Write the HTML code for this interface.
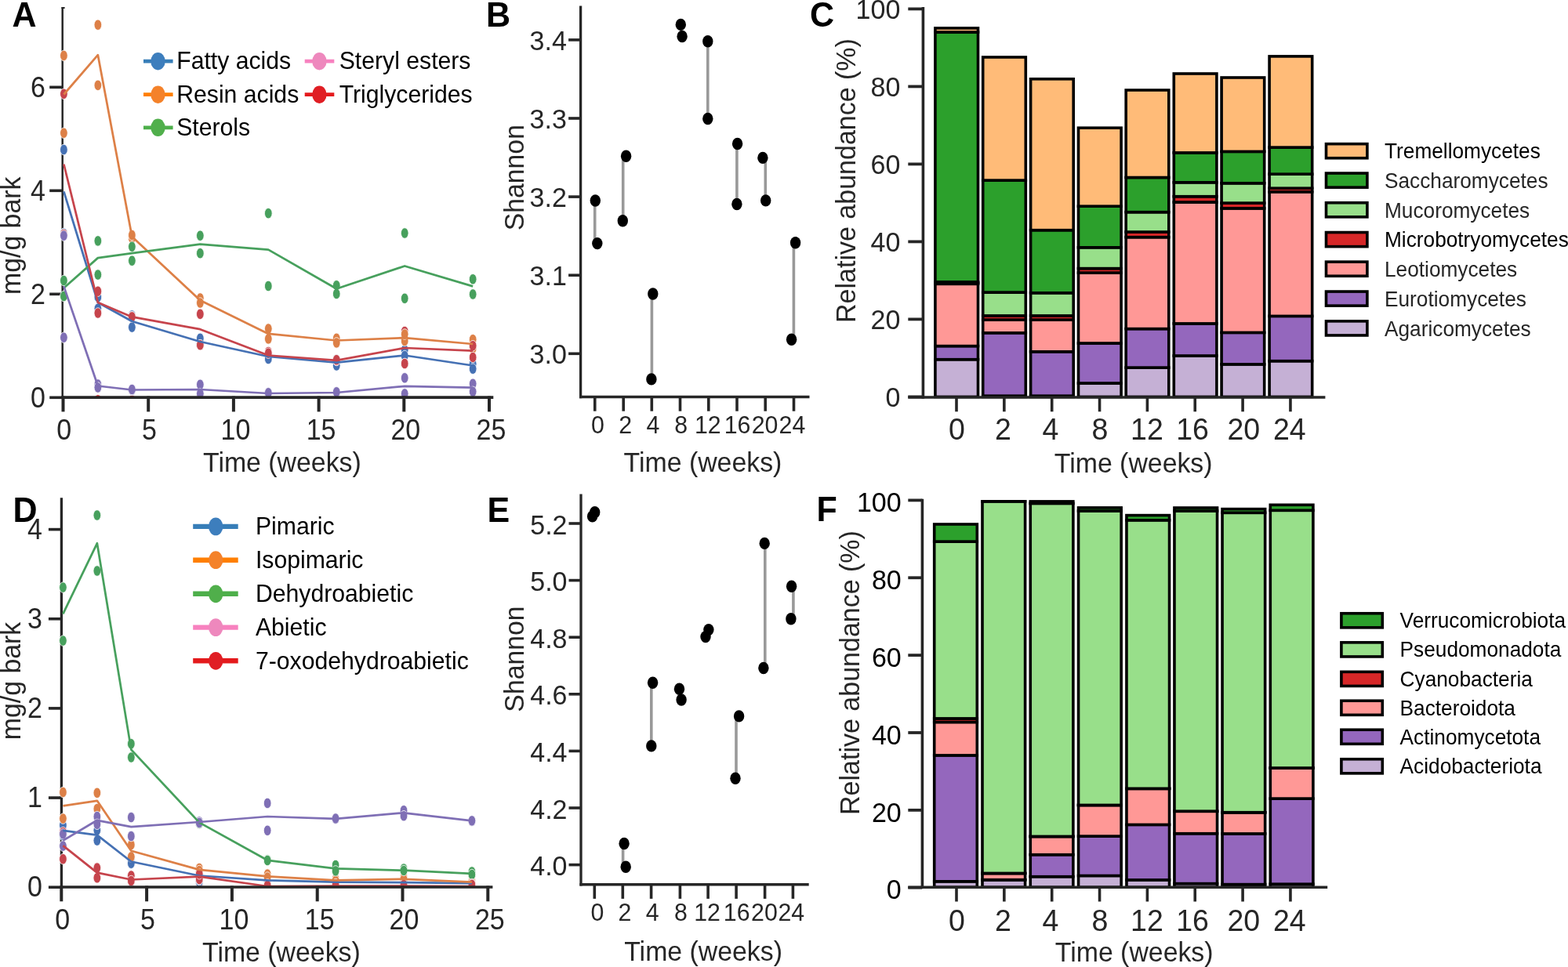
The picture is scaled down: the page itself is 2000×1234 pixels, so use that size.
<!DOCTYPE html>
<html><head><meta charset="utf-8"><title>Figure</title>
<style>
html,body{margin:0;padding:0;background:#fff;}
svg{display:block;}
text{font-family:"Liberation Sans", Arial, Helvetica, sans-serif;}
</style></head>
<body>
<svg width="2000" height="1234" viewBox="0 0 2000 1234">
<rect x="0" y="0" width="2000" height="1234" fill="#fff"/>
<text font-size="43" text-anchor="start" font-weight="bold" fill="#000" transform="translate(15.5 33.8) scale(1 1.05)">A</text>
<text font-size="43" text-anchor="start" font-weight="bold" fill="#000" transform="translate(620 33.9) scale(1 1.05)">B</text>
<text font-size="43" text-anchor="start" font-weight="bold" fill="#000" transform="translate(1033 33.5) scale(1 1.05)">C</text>
<text font-size="43" text-anchor="start" font-weight="bold" fill="#000" transform="translate(16.5 665.8) scale(1 1.05)">D</text>
<text font-size="43" text-anchor="start" font-weight="bold" fill="#000" transform="translate(621.5 666.2) scale(1 1.05)">E</text>
<text font-size="43" text-anchor="start" font-weight="bold" fill="#000" transform="translate(1041.5 665.2) scale(1 1.05)">F</text>
<rect x="78.4" y="9.1" width="4.2" height="1.8" fill="#111"/>
<line x1="79.7" y1="9.3" x2="79.7" y2="507" stroke="#262626" stroke-width="2.5" stroke-linecap="butt"/>
<line x1="63.2" y1="507.3" x2="79.7" y2="507.3" stroke="#262626" stroke-width="3.6" stroke-linecap="butt"/>
<text font-size="34" text-anchor="end" fill="#262626" transform="translate(58 519.54) scale(1 1.08)">0</text>
<line x1="63.2" y1="375.3" x2="79.7" y2="375.3" stroke="#262626" stroke-width="3.6" stroke-linecap="butt"/>
<text font-size="34" text-anchor="end" fill="#262626" transform="translate(58 387.54) scale(1 1.08)">2</text>
<line x1="63.2" y1="243.3" x2="79.7" y2="243.3" stroke="#262626" stroke-width="3.6" stroke-linecap="butt"/>
<text font-size="34" text-anchor="end" fill="#262626" transform="translate(58 255.54) scale(1 1.08)">4</text>
<line x1="63.2" y1="111.3" x2="79.7" y2="111.3" stroke="#262626" stroke-width="3.6" stroke-linecap="butt"/>
<text font-size="34" text-anchor="end" fill="#262626" transform="translate(58 123.54) scale(1 1.08)">6</text>
<text font-size="33.85" text-anchor="start" fill="#262626" transform="translate(259 601.7) scale(1 1.05)">Time (weeks)</text>
<text font-size="33.85" text-anchor="middle" fill="#262626" transform="translate(25.9 300.8) rotate(-90) scale(1 1.05)">mg/g bark</text>
<clipPath id="clipA"><rect x="60" y="0" width="580" height="507.2"/></clipPath>
<g clip-path="url(#clipA)">
<ellipse cx="516.2" cy="423" rx="4.85" ry="6.75" fill="#c6444c" stroke="#fff" stroke-width="0.8"/>
<ellipse cx="124.88" cy="510.5" rx="4.85" ry="6.75" fill="#e41a1c" stroke="#fff" stroke-width="0.8"/>
<ellipse cx="168.36" cy="511" rx="4.85" ry="6.75" fill="#e41a1c" stroke="#fff" stroke-width="0.8"/>
<ellipse cx="81.4" cy="297.8" rx="4.85" ry="6.75" fill="#4571b4" stroke="#fff" stroke-width="0.8"/>
<ellipse cx="81.4" cy="191" rx="4.85" ry="6.75" fill="#4571b4" stroke="#fff" stroke-width="0.8"/>
<ellipse cx="124.88" cy="393.8" rx="4.85" ry="6.75" fill="#4571b4" stroke="#fff" stroke-width="0.8"/>
<ellipse cx="124.88" cy="379" rx="4.85" ry="6.75" fill="#4571b4" stroke="#fff" stroke-width="0.8"/>
<ellipse cx="168.36" cy="402.4" rx="4.85" ry="6.75" fill="#4571b4" stroke="#fff" stroke-width="0.8"/>
<ellipse cx="168.36" cy="417.6" rx="4.85" ry="6.75" fill="#4571b4" stroke="#fff" stroke-width="0.8"/>
<ellipse cx="255.32" cy="431.8" rx="4.85" ry="6.75" fill="#4571b4" stroke="#fff" stroke-width="0.8"/>
<ellipse cx="255.32" cy="440.2" rx="4.85" ry="6.75" fill="#4571b4" stroke="#fff" stroke-width="0.8"/>
<ellipse cx="342.28" cy="452" rx="4.85" ry="6.75" fill="#4571b4" stroke="#fff" stroke-width="0.8"/>
<ellipse cx="342.28" cy="458" rx="4.85" ry="6.75" fill="#4571b4" stroke="#fff" stroke-width="0.8"/>
<ellipse cx="429.24" cy="459" rx="4.85" ry="6.75" fill="#4571b4" stroke="#fff" stroke-width="0.8"/>
<ellipse cx="429.24" cy="466.5" rx="4.85" ry="6.75" fill="#4571b4" stroke="#fff" stroke-width="0.8"/>
<ellipse cx="516.2" cy="446.5" rx="4.85" ry="6.75" fill="#4571b4" stroke="#fff" stroke-width="0.8"/>
<ellipse cx="516.2" cy="454" rx="4.85" ry="6.75" fill="#4571b4" stroke="#fff" stroke-width="0.8"/>
<ellipse cx="603.16" cy="464.4" rx="4.85" ry="6.75" fill="#4571b4" stroke="#fff" stroke-width="0.8"/>
<ellipse cx="603.16" cy="470.7" rx="4.85" ry="6.75" fill="#4571b4" stroke="#fff" stroke-width="0.8"/>
<ellipse cx="81.4" cy="70.9" rx="4.85" ry="6.75" fill="#dd8047" stroke="#fff" stroke-width="0.8"/>
<ellipse cx="81.4" cy="169.7" rx="4.85" ry="6.75" fill="#dd8047" stroke="#fff" stroke-width="0.8"/>
<ellipse cx="124.88" cy="31.7" rx="4.85" ry="6.75" fill="#dd8047" stroke="#fff" stroke-width="0.8"/>
<ellipse cx="124.88" cy="108.8" rx="4.85" ry="6.75" fill="#dd8047" stroke="#fff" stroke-width="0.8"/>
<ellipse cx="168.36" cy="304" rx="4.85" ry="6.75" fill="#dd8047" stroke="#fff" stroke-width="0.8"/>
<ellipse cx="168.36" cy="300" rx="4.85" ry="6.75" fill="#dd8047" stroke="#fff" stroke-width="0.8"/>
<ellipse cx="255.32" cy="380.5" rx="4.85" ry="6.75" fill="#dd8047" stroke="#fff" stroke-width="0.8"/>
<ellipse cx="255.32" cy="386.5" rx="4.85" ry="6.75" fill="#dd8047" stroke="#fff" stroke-width="0.8"/>
<ellipse cx="342.28" cy="419.5" rx="4.85" ry="6.75" fill="#dd8047" stroke="#fff" stroke-width="0.8"/>
<ellipse cx="342.28" cy="432.4" rx="4.85" ry="6.75" fill="#dd8047" stroke="#fff" stroke-width="0.8"/>
<ellipse cx="429.24" cy="431.8" rx="4.85" ry="6.75" fill="#dd8047" stroke="#fff" stroke-width="0.8"/>
<ellipse cx="429.24" cy="437.4" rx="4.85" ry="6.75" fill="#dd8047" stroke="#fff" stroke-width="0.8"/>
<ellipse cx="516.2" cy="435" rx="4.85" ry="6.75" fill="#dd8047" stroke="#fff" stroke-width="0.8"/>
<ellipse cx="516.2" cy="426.5" rx="4.85" ry="6.75" fill="#dd8047" stroke="#fff" stroke-width="0.8"/>
<ellipse cx="603.16" cy="444.8" rx="4.85" ry="6.75" fill="#dd8047" stroke="#fff" stroke-width="0.8"/>
<ellipse cx="603.16" cy="433.2" rx="4.85" ry="6.75" fill="#dd8047" stroke="#fff" stroke-width="0.8"/>
<ellipse cx="81.4" cy="358" rx="4.85" ry="6.75" fill="#47a05d" stroke="#fff" stroke-width="0.8"/>
<ellipse cx="81.4" cy="378" rx="4.85" ry="6.75" fill="#47a05d" stroke="#fff" stroke-width="0.8"/>
<ellipse cx="124.88" cy="307.4" rx="4.85" ry="6.75" fill="#47a05d" stroke="#fff" stroke-width="0.8"/>
<ellipse cx="124.88" cy="350.6" rx="4.85" ry="6.75" fill="#47a05d" stroke="#fff" stroke-width="0.8"/>
<ellipse cx="168.36" cy="314.8" rx="4.85" ry="6.75" fill="#47a05d" stroke="#fff" stroke-width="0.8"/>
<ellipse cx="168.36" cy="332.7" rx="4.85" ry="6.75" fill="#47a05d" stroke="#fff" stroke-width="0.8"/>
<ellipse cx="255.32" cy="300.7" rx="4.85" ry="6.75" fill="#47a05d" stroke="#fff" stroke-width="0.8"/>
<ellipse cx="255.32" cy="323.2" rx="4.85" ry="6.75" fill="#47a05d" stroke="#fff" stroke-width="0.8"/>
<ellipse cx="342.28" cy="272.2" rx="4.85" ry="6.75" fill="#47a05d" stroke="#fff" stroke-width="0.8"/>
<ellipse cx="342.28" cy="365" rx="4.85" ry="6.75" fill="#47a05d" stroke="#fff" stroke-width="0.8"/>
<ellipse cx="429.24" cy="364.3" rx="4.85" ry="6.75" fill="#47a05d" stroke="#fff" stroke-width="0.8"/>
<ellipse cx="429.24" cy="374.9" rx="4.85" ry="6.75" fill="#47a05d" stroke="#fff" stroke-width="0.8"/>
<ellipse cx="516.2" cy="297.5" rx="4.85" ry="6.75" fill="#47a05d" stroke="#fff" stroke-width="0.8"/>
<ellipse cx="516.2" cy="380.8" rx="4.85" ry="6.75" fill="#47a05d" stroke="#fff" stroke-width="0.8"/>
<ellipse cx="603.16" cy="356.3" rx="4.85" ry="6.75" fill="#47a05d" stroke="#fff" stroke-width="0.8"/>
<ellipse cx="603.16" cy="375.5" rx="4.85" ry="6.75" fill="#47a05d" stroke="#fff" stroke-width="0.8"/>
<ellipse cx="81.4" cy="299" rx="4.85" ry="6.75" fill="#c6444c" stroke="#fff" stroke-width="0.8"/>
<ellipse cx="81.4" cy="119.8" rx="4.85" ry="6.75" fill="#c6444c" stroke="#fff" stroke-width="0.8"/>
<ellipse cx="124.88" cy="399.5" rx="4.85" ry="6.75" fill="#c6444c" stroke="#fff" stroke-width="0.8"/>
<ellipse cx="124.88" cy="371.7" rx="4.85" ry="6.75" fill="#c6444c" stroke="#fff" stroke-width="0.8"/>
<ellipse cx="168.36" cy="404" rx="4.85" ry="6.75" fill="#c6444c" stroke="#fff" stroke-width="0.8"/>
<ellipse cx="168.36" cy="404.4" rx="4.85" ry="6.75" fill="#c6444c" stroke="#fff" stroke-width="0.8"/>
<ellipse cx="255.32" cy="440.2" rx="4.85" ry="6.75" fill="#c6444c" stroke="#fff" stroke-width="0.8"/>
<ellipse cx="255.32" cy="400.8" rx="4.85" ry="6.75" fill="#c6444c" stroke="#fff" stroke-width="0.8"/>
<ellipse cx="342.28" cy="449" rx="4.85" ry="6.75" fill="#c6444c" stroke="#fff" stroke-width="0.8"/>
<ellipse cx="342.28" cy="450.7" rx="4.85" ry="6.75" fill="#c6444c" stroke="#fff" stroke-width="0.8"/>
<ellipse cx="429.24" cy="460" rx="4.85" ry="6.75" fill="#c6444c" stroke="#fff" stroke-width="0.8"/>
<ellipse cx="429.24" cy="459.2" rx="4.85" ry="6.75" fill="#c6444c" stroke="#fff" stroke-width="0.8"/>
<ellipse cx="516.2" cy="464" rx="4.85" ry="6.75" fill="#c6444c" stroke="#fff" stroke-width="0.8"/>
<ellipse cx="516.2" cy="464" rx="4.85" ry="6.75" fill="#c6444c" stroke="#fff" stroke-width="0.8"/>
<ellipse cx="603.16" cy="456" rx="4.85" ry="6.75" fill="#c6444c" stroke="#fff" stroke-width="0.8"/>
<ellipse cx="603.16" cy="441.2" rx="4.85" ry="6.75" fill="#c6444c" stroke="#fff" stroke-width="0.8"/>
<ellipse cx="81.4" cy="300.7" rx="4.85" ry="6.75" fill="#7f6fb5" stroke="#fff" stroke-width="0.8"/>
<ellipse cx="81.4" cy="430.7" rx="4.85" ry="6.75" fill="#7f6fb5" stroke="#fff" stroke-width="0.8"/>
<ellipse cx="124.88" cy="490.5" rx="4.85" ry="6.75" fill="#7f6fb5" stroke="#fff" stroke-width="0.8"/>
<ellipse cx="124.88" cy="494.5" rx="4.85" ry="6.75" fill="#7f6fb5" stroke="#fff" stroke-width="0.8"/>
<ellipse cx="168.36" cy="498" rx="4.85" ry="6.75" fill="#7f6fb5" stroke="#fff" stroke-width="0.8"/>
<ellipse cx="168.36" cy="497" rx="4.85" ry="6.75" fill="#7f6fb5" stroke="#fff" stroke-width="0.8"/>
<ellipse cx="255.32" cy="490.8" rx="4.85" ry="6.75" fill="#7f6fb5" stroke="#fff" stroke-width="0.8"/>
<ellipse cx="255.32" cy="502.4" rx="4.85" ry="6.75" fill="#7f6fb5" stroke="#fff" stroke-width="0.8"/>
<ellipse cx="342.28" cy="502" rx="4.85" ry="6.75" fill="#7f6fb5" stroke="#fff" stroke-width="0.8"/>
<ellipse cx="342.28" cy="501.3" rx="4.85" ry="6.75" fill="#7f6fb5" stroke="#fff" stroke-width="0.8"/>
<ellipse cx="429.24" cy="501" rx="4.85" ry="6.75" fill="#7f6fb5" stroke="#fff" stroke-width="0.8"/>
<ellipse cx="429.24" cy="500.3" rx="4.85" ry="6.75" fill="#7f6fb5" stroke="#fff" stroke-width="0.8"/>
<ellipse cx="516.2" cy="482.3" rx="4.85" ry="6.75" fill="#7f6fb5" stroke="#fff" stroke-width="0.8"/>
<ellipse cx="516.2" cy="502.4" rx="4.85" ry="6.75" fill="#7f6fb5" stroke="#fff" stroke-width="0.8"/>
<ellipse cx="603.16" cy="489.7" rx="4.85" ry="6.75" fill="#7f6fb5" stroke="#fff" stroke-width="0.8"/>
<ellipse cx="603.16" cy="499.8" rx="4.85" ry="6.75" fill="#7f6fb5" stroke="#fff" stroke-width="0.8"/>
<polyline points="81.4,244.4 124.88,386 168.36,410 255.32,436 342.28,455 429.24,462.7 516.2,453.5 603.16,466.5" fill="none" stroke="#4571b4" stroke-width="2.75" stroke-linejoin="round"/>
<polyline points="81.4,120.5 124.88,70.2 168.36,302 255.32,383.3 342.28,425.9 429.24,434.5 516.2,431.1 603.16,439" fill="none" stroke="#dd8047" stroke-width="2.75" stroke-linejoin="round"/>
<polyline points="81.4,367.5 124.88,329.1 168.36,323.2 255.32,311.6 342.28,318.6 429.24,368.5 516.2,339.5 603.16,365.4" fill="none" stroke="#47a05d" stroke-width="2.75" stroke-linejoin="round"/>
<polyline points="81.4,209.5 124.88,386 168.36,404.4 255.32,420.2 342.28,453.5 429.24,459.8 516.2,444 603.16,447.6" fill="none" stroke="#c6444c" stroke-width="2.75" stroke-linejoin="round"/>
<polyline points="81.4,365.4 124.88,492.5 168.36,497.5 255.32,497 342.28,502 429.24,501 516.2,492.9 603.16,494.6" fill="none" stroke="#7f6fb5" stroke-width="2.75" stroke-linejoin="round"/>
</g>
<line x1="78.5" y1="507.1" x2="629.3" y2="507.1" stroke="#262626" stroke-width="3.6" stroke-linecap="butt"/>
<line x1="80.5" y1="505.6" x2="80.5" y2="525.4" stroke="#262626" stroke-width="4" stroke-linecap="butt"/>
<text font-size="34" text-anchor="middle" fill="#262626" transform="translate(81.8 560.5) scale(1 1.08)">0</text>
<line x1="189.2" y1="505.6" x2="189.2" y2="525.4" stroke="#262626" stroke-width="4" stroke-linecap="butt"/>
<text font-size="34" text-anchor="middle" fill="#262626" transform="translate(190.5 560.5) scale(1 1.08)">5</text>
<line x1="297.9" y1="505.6" x2="297.9" y2="525.4" stroke="#262626" stroke-width="4" stroke-linecap="butt"/>
<text font-size="34" text-anchor="middle" fill="#262626" transform="translate(300.5 560.5) scale(1 1.08)">10</text>
<line x1="406.6" y1="505.6" x2="406.6" y2="525.4" stroke="#262626" stroke-width="4" stroke-linecap="butt"/>
<text font-size="34" text-anchor="middle" fill="#262626" transform="translate(409.6 560.5) scale(1 1.08)">15</text>
<line x1="515.3" y1="505.6" x2="515.3" y2="525.4" stroke="#262626" stroke-width="4" stroke-linecap="butt"/>
<text font-size="34" text-anchor="middle" fill="#262626" transform="translate(517.3 560.5) scale(1 1.08)">20</text>
<line x1="624" y1="505.6" x2="624" y2="525.4" stroke="#262626" stroke-width="4" stroke-linecap="butt"/>
<text font-size="34" text-anchor="middle" fill="#262626" transform="translate(626.5 560.5) scale(1 1.08)">25</text>
<line x1="183" y1="78.2" x2="220.6" y2="78.2" stroke="#377eb8" stroke-width="4.8" stroke-linecap="butt"/>
<ellipse cx="201.5" cy="78.2" rx="9.2" ry="11.2" fill="#3d7ebd"/>
<text font-size="30.2" text-anchor="start" fill="#000" transform="translate(225.2 88) scale(1 1.05)">Fatty acids</text>
<line x1="183" y1="120.7" x2="220.6" y2="120.7" stroke="#ff7f00" stroke-width="4.8" stroke-linecap="butt"/>
<ellipse cx="201.5" cy="120.7" rx="9.2" ry="11.2" fill="#f4822a"/>
<text font-size="30.2" text-anchor="start" fill="#000" transform="translate(225.2 130.5) scale(1 1.05)">Resin acids</text>
<line x1="183" y1="162.8" x2="220.6" y2="162.8" stroke="#4daf4a" stroke-width="4.8" stroke-linecap="butt"/>
<ellipse cx="201.5" cy="162.8" rx="9.2" ry="11.2" fill="#50af4b"/>
<text font-size="30.2" text-anchor="start" fill="#000" transform="translate(225.2 172.6) scale(1 1.05)">Sterols</text>
<line x1="388.7" y1="78.2" x2="426.3" y2="78.2" stroke="#f781bf" stroke-width="4.8" stroke-linecap="butt"/>
<ellipse cx="407.4" cy="78.2" rx="9.2" ry="11.2" fill="#ee88bd"/>
<text font-size="30.2" text-anchor="start" fill="#000" transform="translate(432.7 88) scale(1 1.05)">Steryl esters</text>
<line x1="388.7" y1="120.7" x2="426.3" y2="120.7" stroke="#e41a1c" stroke-width="4.8" stroke-linecap="butt"/>
<ellipse cx="407.4" cy="120.7" rx="9.2" ry="11.2" fill="#e01e24"/>
<text font-size="30.2" text-anchor="start" fill="#000" transform="translate(432.7 130.5) scale(1 1.05)">Triglycerides</text>
<line x1="78.4" y1="635.2" x2="78.4" y2="1132" stroke="#262626" stroke-width="3.3" stroke-linecap="butt"/>
<line x1="61.9" y1="1132.2" x2="78.4" y2="1132.2" stroke="#262626" stroke-width="3.6" stroke-linecap="butt"/>
<text font-size="34" text-anchor="end" fill="#262626" transform="translate(54 1144.44) scale(1 1.08)">0</text>
<line x1="61.9" y1="1018.05" x2="78.4" y2="1018.05" stroke="#262626" stroke-width="3.6" stroke-linecap="butt"/>
<text font-size="34" text-anchor="end" fill="#262626" transform="translate(54 1030.29) scale(1 1.08)">1</text>
<line x1="61.9" y1="903.9" x2="78.4" y2="903.9" stroke="#262626" stroke-width="3.6" stroke-linecap="butt"/>
<text font-size="34" text-anchor="end" fill="#262626" transform="translate(54 916.14) scale(1 1.08)">2</text>
<line x1="61.9" y1="789.75" x2="78.4" y2="789.75" stroke="#262626" stroke-width="3.6" stroke-linecap="butt"/>
<text font-size="34" text-anchor="end" fill="#262626" transform="translate(54 801.99) scale(1 1.08)">3</text>
<line x1="61.9" y1="675.6" x2="78.4" y2="675.6" stroke="#262626" stroke-width="3.6" stroke-linecap="butt"/>
<text font-size="34" text-anchor="end" fill="#262626" transform="translate(54 687.84) scale(1 1.08)">4</text>
<text font-size="33.85" text-anchor="start" fill="#262626" transform="translate(258 1227) scale(1 1.05)">Time (weeks)</text>
<text font-size="33.85" text-anchor="middle" fill="#262626" transform="translate(26 869) rotate(-90) scale(1 1.05)">mg/g bark</text>
<clipPath id="clipD"><rect x="60" y="620" width="580" height="512.2"/></clipPath>
<g clip-path="url(#clipD)">
<ellipse cx="80.4" cy="1058" rx="4.85" ry="6.75" fill="#e58ac4" stroke="#fff" stroke-width="0.8"/>
<ellipse cx="167.32" cy="1135" rx="4.85" ry="6.75" fill="#e58ac4" stroke="#fff" stroke-width="0.8"/>
<ellipse cx="254.24" cy="1135.3" rx="4.85" ry="6.75" fill="#e58ac4" stroke="#fff" stroke-width="0.8"/>
<ellipse cx="254.24" cy="1127" rx="4.85" ry="6.75" fill="#c6444c" stroke="#fff" stroke-width="0.8"/>
<ellipse cx="254.24" cy="1125.5" rx="4.85" ry="6.75" fill="#4571b4" stroke="#fff" stroke-width="0.8"/>
<ellipse cx="80.4" cy="1066" rx="4.85" ry="6.75" fill="#4571b4" stroke="#fff" stroke-width="0.8"/>
<ellipse cx="80.4" cy="1052.9" rx="4.85" ry="6.75" fill="#4571b4" stroke="#fff" stroke-width="0.8"/>
<ellipse cx="123.86" cy="1059.5" rx="4.85" ry="6.75" fill="#4571b4" stroke="#fff" stroke-width="0.8"/>
<ellipse cx="123.86" cy="1072.6" rx="4.85" ry="6.75" fill="#4571b4" stroke="#fff" stroke-width="0.8"/>
<ellipse cx="167.32" cy="1097" rx="4.85" ry="6.75" fill="#4571b4" stroke="#fff" stroke-width="0.8"/>
<ellipse cx="167.32" cy="1101.7" rx="4.85" ry="6.75" fill="#4571b4" stroke="#fff" stroke-width="0.8"/>
<ellipse cx="254.24" cy="1112" rx="4.85" ry="6.75" fill="#4571b4" stroke="#fff" stroke-width="0.8"/>
<ellipse cx="254.24" cy="1123" rx="4.85" ry="6.75" fill="#4571b4" stroke="#fff" stroke-width="0.8"/>
<ellipse cx="341.16" cy="1123" rx="4.85" ry="6.75" fill="#4571b4" stroke="#fff" stroke-width="0.8"/>
<ellipse cx="341.16" cy="1124" rx="4.85" ry="6.75" fill="#4571b4" stroke="#fff" stroke-width="0.8"/>
<ellipse cx="428.08" cy="1126" rx="4.85" ry="6.75" fill="#4571b4" stroke="#fff" stroke-width="0.8"/>
<ellipse cx="428.08" cy="1125" rx="4.85" ry="6.75" fill="#4571b4" stroke="#fff" stroke-width="0.8"/>
<ellipse cx="515" cy="1126" rx="4.85" ry="6.75" fill="#4571b4" stroke="#fff" stroke-width="0.8"/>
<ellipse cx="515" cy="1126" rx="4.85" ry="6.75" fill="#4571b4" stroke="#fff" stroke-width="0.8"/>
<ellipse cx="601.92" cy="1127" rx="4.85" ry="6.75" fill="#4571b4" stroke="#fff" stroke-width="0.8"/>
<ellipse cx="601.92" cy="1127" rx="4.85" ry="6.75" fill="#4571b4" stroke="#fff" stroke-width="0.8"/>
<ellipse cx="80.4" cy="1010.9" rx="4.85" ry="6.75" fill="#dd8047" stroke="#fff" stroke-width="0.8"/>
<ellipse cx="80.4" cy="1044.6" rx="4.85" ry="6.75" fill="#dd8047" stroke="#fff" stroke-width="0.8"/>
<ellipse cx="123.86" cy="1011.8" rx="4.85" ry="6.75" fill="#dd8047" stroke="#fff" stroke-width="0.8"/>
<ellipse cx="123.86" cy="1032.1" rx="4.85" ry="6.75" fill="#dd8047" stroke="#fff" stroke-width="0.8"/>
<ellipse cx="167.32" cy="1078.1" rx="4.85" ry="6.75" fill="#dd8047" stroke="#fff" stroke-width="0.8"/>
<ellipse cx="167.32" cy="1093.4" rx="4.85" ry="6.75" fill="#dd8047" stroke="#fff" stroke-width="0.8"/>
<ellipse cx="254.24" cy="1108" rx="4.85" ry="6.75" fill="#dd8047" stroke="#fff" stroke-width="0.8"/>
<ellipse cx="254.24" cy="1111" rx="4.85" ry="6.75" fill="#dd8047" stroke="#fff" stroke-width="0.8"/>
<ellipse cx="341.16" cy="1115.6" rx="4.85" ry="6.75" fill="#dd8047" stroke="#fff" stroke-width="0.8"/>
<ellipse cx="341.16" cy="1119.5" rx="4.85" ry="6.75" fill="#dd8047" stroke="#fff" stroke-width="0.8"/>
<ellipse cx="428.08" cy="1121.8" rx="4.85" ry="6.75" fill="#dd8047" stroke="#fff" stroke-width="0.8"/>
<ellipse cx="428.08" cy="1124" rx="4.85" ry="6.75" fill="#dd8047" stroke="#fff" stroke-width="0.8"/>
<ellipse cx="515" cy="1119.5" rx="4.85" ry="6.75" fill="#dd8047" stroke="#fff" stroke-width="0.8"/>
<ellipse cx="515" cy="1122" rx="4.85" ry="6.75" fill="#dd8047" stroke="#fff" stroke-width="0.8"/>
<ellipse cx="601.92" cy="1124.1" rx="4.85" ry="6.75" fill="#dd8047" stroke="#fff" stroke-width="0.8"/>
<ellipse cx="601.92" cy="1126" rx="4.85" ry="6.75" fill="#dd8047" stroke="#fff" stroke-width="0.8"/>
<ellipse cx="80.4" cy="749.6" rx="4.85" ry="6.75" fill="#47a05d" stroke="#fff" stroke-width="0.8"/>
<ellipse cx="80.4" cy="817.6" rx="4.85" ry="6.75" fill="#47a05d" stroke="#fff" stroke-width="0.8"/>
<ellipse cx="123.86" cy="657.5" rx="4.85" ry="6.75" fill="#47a05d" stroke="#fff" stroke-width="0.8"/>
<ellipse cx="123.86" cy="728.5" rx="4.85" ry="6.75" fill="#47a05d" stroke="#fff" stroke-width="0.8"/>
<ellipse cx="167.32" cy="949.2" rx="4.85" ry="6.75" fill="#47a05d" stroke="#fff" stroke-width="0.8"/>
<ellipse cx="167.32" cy="966.5" rx="4.85" ry="6.75" fill="#47a05d" stroke="#fff" stroke-width="0.8"/>
<ellipse cx="254.24" cy="1049" rx="4.85" ry="6.75" fill="#47a05d" stroke="#fff" stroke-width="0.8"/>
<ellipse cx="254.24" cy="1051" rx="4.85" ry="6.75" fill="#47a05d" stroke="#fff" stroke-width="0.8"/>
<ellipse cx="341.16" cy="1097.3" rx="4.85" ry="6.75" fill="#47a05d" stroke="#fff" stroke-width="0.8"/>
<ellipse cx="341.16" cy="1098" rx="4.85" ry="6.75" fill="#47a05d" stroke="#fff" stroke-width="0.8"/>
<ellipse cx="428.08" cy="1104" rx="4.85" ry="6.75" fill="#47a05d" stroke="#fff" stroke-width="0.8"/>
<ellipse cx="428.08" cy="1111.4" rx="4.85" ry="6.75" fill="#47a05d" stroke="#fff" stroke-width="0.8"/>
<ellipse cx="515" cy="1108.6" rx="4.85" ry="6.75" fill="#47a05d" stroke="#fff" stroke-width="0.8"/>
<ellipse cx="515" cy="1111" rx="4.85" ry="6.75" fill="#47a05d" stroke="#fff" stroke-width="0.8"/>
<ellipse cx="601.92" cy="1112.5" rx="4.85" ry="6.75" fill="#47a05d" stroke="#fff" stroke-width="0.8"/>
<ellipse cx="601.92" cy="1116" rx="4.85" ry="6.75" fill="#47a05d" stroke="#fff" stroke-width="0.8"/>
<ellipse cx="80.4" cy="1062" rx="4.85" ry="6.75" fill="#c6444c" stroke="#fff" stroke-width="0.8"/>
<ellipse cx="80.4" cy="1096.2" rx="4.85" ry="6.75" fill="#c6444c" stroke="#fff" stroke-width="0.8"/>
<ellipse cx="123.86" cy="1107.6" rx="4.85" ry="6.75" fill="#c6444c" stroke="#fff" stroke-width="0.8"/>
<ellipse cx="123.86" cy="1120.3" rx="4.85" ry="6.75" fill="#c6444c" stroke="#fff" stroke-width="0.8"/>
<ellipse cx="167.32" cy="1117.5" rx="4.85" ry="6.75" fill="#c6444c" stroke="#fff" stroke-width="0.8"/>
<ellipse cx="167.32" cy="1124" rx="4.85" ry="6.75" fill="#c6444c" stroke="#fff" stroke-width="0.8"/>
<ellipse cx="254.24" cy="1122" rx="4.85" ry="6.75" fill="#c6444c" stroke="#fff" stroke-width="0.8"/>
<ellipse cx="254.24" cy="1115.3" rx="4.85" ry="6.75" fill="#c6444c" stroke="#fff" stroke-width="0.8"/>
<ellipse cx="341.16" cy="1128.4" rx="4.85" ry="6.75" fill="#c6444c" stroke="#fff" stroke-width="0.8"/>
<ellipse cx="341.16" cy="1130" rx="4.85" ry="6.75" fill="#c6444c" stroke="#fff" stroke-width="0.8"/>
<ellipse cx="428.08" cy="1128" rx="4.85" ry="6.75" fill="#c6444c" stroke="#fff" stroke-width="0.8"/>
<ellipse cx="428.08" cy="1129" rx="4.85" ry="6.75" fill="#c6444c" stroke="#fff" stroke-width="0.8"/>
<ellipse cx="515" cy="1128" rx="4.85" ry="6.75" fill="#c6444c" stroke="#fff" stroke-width="0.8"/>
<ellipse cx="515" cy="1129" rx="4.85" ry="6.75" fill="#c6444c" stroke="#fff" stroke-width="0.8"/>
<ellipse cx="601.92" cy="1128" rx="4.85" ry="6.75" fill="#c6444c" stroke="#fff" stroke-width="0.8"/>
<ellipse cx="601.92" cy="1129" rx="4.85" ry="6.75" fill="#c6444c" stroke="#fff" stroke-width="0.8"/>
<ellipse cx="80.4" cy="1064.3" rx="4.85" ry="6.75" fill="#7f6fb5" stroke="#fff" stroke-width="0.8"/>
<ellipse cx="80.4" cy="1079.6" rx="4.85" ry="6.75" fill="#7f6fb5" stroke="#fff" stroke-width="0.8"/>
<ellipse cx="123.86" cy="1042" rx="4.85" ry="6.75" fill="#7f6fb5" stroke="#fff" stroke-width="0.8"/>
<ellipse cx="123.86" cy="1051.8" rx="4.85" ry="6.75" fill="#7f6fb5" stroke="#fff" stroke-width="0.8"/>
<ellipse cx="167.32" cy="1043.1" rx="4.85" ry="6.75" fill="#7f6fb5" stroke="#fff" stroke-width="0.8"/>
<ellipse cx="167.32" cy="1067.1" rx="4.85" ry="6.75" fill="#7f6fb5" stroke="#fff" stroke-width="0.8"/>
<ellipse cx="254.24" cy="1048.5" rx="4.85" ry="6.75" fill="#7f6fb5" stroke="#fff" stroke-width="0.8"/>
<ellipse cx="254.24" cy="1050" rx="4.85" ry="6.75" fill="#7f6fb5" stroke="#fff" stroke-width="0.8"/>
<ellipse cx="341.16" cy="1024.9" rx="4.85" ry="6.75" fill="#7f6fb5" stroke="#fff" stroke-width="0.8"/>
<ellipse cx="341.16" cy="1059.8" rx="4.85" ry="6.75" fill="#7f6fb5" stroke="#fff" stroke-width="0.8"/>
<ellipse cx="428.08" cy="1045.1" rx="4.85" ry="6.75" fill="#7f6fb5" stroke="#fff" stroke-width="0.8"/>
<ellipse cx="428.08" cy="1044.5" rx="4.85" ry="6.75" fill="#7f6fb5" stroke="#fff" stroke-width="0.8"/>
<ellipse cx="515" cy="1034.2" rx="4.85" ry="6.75" fill="#7f6fb5" stroke="#fff" stroke-width="0.8"/>
<ellipse cx="515" cy="1041.2" rx="4.85" ry="6.75" fill="#7f6fb5" stroke="#fff" stroke-width="0.8"/>
<ellipse cx="601.92" cy="1047.4" rx="4.85" ry="6.75" fill="#7f6fb5" stroke="#fff" stroke-width="0.8"/>
<ellipse cx="601.92" cy="1047.4" rx="4.85" ry="6.75" fill="#7f6fb5" stroke="#fff" stroke-width="0.8"/>
<polyline points="80.4,1059.9 123.86,1065.6 167.32,1099.5 254.24,1117.5 341.16,1123.4 428.08,1125.7 515,1126.2 601.92,1127.2" fill="none" stroke="#4571b4" stroke-width="2.75" stroke-linejoin="round"/>
<polyline points="80.4,1028.4 123.86,1021.8 167.32,1085.7 254.24,1109.8 341.16,1118.4 428.08,1123.4 515,1121.8 601.92,1125.7" fill="none" stroke="#dd8047" stroke-width="2.75" stroke-linejoin="round"/>
<polyline points="80.4,783.3 123.86,693.3 167.32,956.6 254.24,1049.6 341.16,1097.8 428.08,1108.3 515,1110.7 601.92,1114.8" fill="none" stroke="#47a05d" stroke-width="2.75" stroke-linejoin="round"/>
<polyline points="80.4,1079.2 123.86,1113.7 167.32,1122.5 254.24,1118.6 341.16,1131 428.08,1130.5 515,1130.5 601.92,1131" fill="none" stroke="#c6444c" stroke-width="2.75" stroke-linejoin="round"/>
<polyline points="80.4,1072.6 123.86,1046.8 167.32,1055.1 254.24,1049 341.16,1042 428.08,1044.8 515,1037.3 601.92,1047.4" fill="none" stroke="#7f6fb5" stroke-width="2.75" stroke-linejoin="round"/>
</g>
<line x1="77.2" y1="1132" x2="628.4" y2="1132" stroke="#262626" stroke-width="3.6" stroke-linecap="butt"/>
<line x1="78.3" y1="1130.5" x2="78.3" y2="1150.3" stroke="#262626" stroke-width="4" stroke-linecap="butt"/>
<text font-size="34" text-anchor="middle" fill="#262626" transform="translate(79.6 1185.5) scale(1 1.08)">0</text>
<line x1="187.1" y1="1130.5" x2="187.1" y2="1150.3" stroke="#262626" stroke-width="4" stroke-linecap="butt"/>
<text font-size="34" text-anchor="middle" fill="#262626" transform="translate(188.4 1185.5) scale(1 1.08)">5</text>
<line x1="295.9" y1="1130.5" x2="295.9" y2="1150.3" stroke="#262626" stroke-width="4" stroke-linecap="butt"/>
<text font-size="34" text-anchor="middle" fill="#262626" transform="translate(298.5 1185.5) scale(1 1.08)">10</text>
<line x1="404.7" y1="1130.5" x2="404.7" y2="1150.3" stroke="#262626" stroke-width="4" stroke-linecap="butt"/>
<text font-size="34" text-anchor="middle" fill="#262626" transform="translate(407.7 1185.5) scale(1 1.08)">15</text>
<line x1="513.5" y1="1130.5" x2="513.5" y2="1150.3" stroke="#262626" stroke-width="4" stroke-linecap="butt"/>
<text font-size="34" text-anchor="middle" fill="#262626" transform="translate(515.5 1185.5) scale(1 1.08)">20</text>
<line x1="622.3" y1="1130.5" x2="622.3" y2="1150.3" stroke="#262626" stroke-width="4" stroke-linecap="butt"/>
<text font-size="34" text-anchor="middle" fill="#262626" transform="translate(624.8 1185.5) scale(1 1.08)">25</text>
<line x1="246.2" y1="671.9" x2="303.7" y2="671.9" stroke="#377eb8" stroke-width="6.4" stroke-linecap="butt"/>
<ellipse cx="275.2" cy="671.9" rx="9.2" ry="11.4" fill="#3d7ebd"/>
<text font-size="30.2" text-anchor="start" fill="#000" transform="translate(325.9 682.2) scale(1 1.05)">Pimaric</text>
<line x1="246.2" y1="714.7" x2="303.7" y2="714.7" stroke="#ff7f00" stroke-width="6.4" stroke-linecap="butt"/>
<ellipse cx="275.2" cy="714.7" rx="9.2" ry="11.4" fill="#f4822a"/>
<text font-size="30.2" text-anchor="start" fill="#000" transform="translate(325.9 725) scale(1 1.05)">Isopimaric</text>
<line x1="246.2" y1="757.8" x2="303.7" y2="757.8" stroke="#4daf4a" stroke-width="6.4" stroke-linecap="butt"/>
<ellipse cx="275.2" cy="757.8" rx="9.2" ry="11.4" fill="#50af4b"/>
<text font-size="30.2" text-anchor="start" fill="#000" transform="translate(325.9 768.1) scale(1 1.05)">Dehydroabietic</text>
<line x1="246.2" y1="800.6" x2="303.7" y2="800.6" stroke="#f781bf" stroke-width="6.4" stroke-linecap="butt"/>
<ellipse cx="275.2" cy="800.6" rx="9.2" ry="11.4" fill="#ee88bd"/>
<text font-size="30.2" text-anchor="start" fill="#000" transform="translate(325.9 810.9) scale(1 1.05)">Abietic</text>
<line x1="246.2" y1="843.3" x2="303.7" y2="843.3" stroke="#e41a1c" stroke-width="6.4" stroke-linecap="butt"/>
<ellipse cx="275.2" cy="843.3" rx="9.2" ry="11.4" fill="#e01e24"/>
<text font-size="30.2" text-anchor="start" fill="#000" transform="translate(325.9 853.6) scale(1 1.05)">7-oxodehydroabietic</text>
<line x1="740.6" y1="7.5" x2="740.6" y2="508.2" stroke="#262626" stroke-width="3.3" stroke-linecap="butt"/>
<line x1="739" y1="506.5" x2="1032.5" y2="506.5" stroke="#262626" stroke-width="3.5" stroke-linecap="butt"/>
<line x1="725.1" y1="451.3" x2="740.6" y2="451.3" stroke="#262626" stroke-width="3.6" stroke-linecap="butt"/>
<text font-size="34" text-anchor="end" fill="#262626" transform="translate(722.8 464.27) scale(1 1.05)">3.0</text>
<line x1="725.1" y1="351.2" x2="740.6" y2="351.2" stroke="#262626" stroke-width="3.6" stroke-linecap="butt"/>
<text font-size="34" text-anchor="end" fill="#262626" transform="translate(722.8 364.17) scale(1 1.05)">3.1</text>
<line x1="725.1" y1="251.1" x2="740.6" y2="251.1" stroke="#262626" stroke-width="3.6" stroke-linecap="butt"/>
<text font-size="34" text-anchor="end" fill="#262626" transform="translate(722.8 264.07) scale(1 1.05)">3.2</text>
<line x1="725.1" y1="151" x2="740.6" y2="151" stroke="#262626" stroke-width="3.6" stroke-linecap="butt"/>
<text font-size="34" text-anchor="end" fill="#262626" transform="translate(722.8 163.97) scale(1 1.05)">3.3</text>
<line x1="725.1" y1="50.9" x2="740.6" y2="50.9" stroke="#262626" stroke-width="3.6" stroke-linecap="butt"/>
<text font-size="34" text-anchor="end" fill="#262626" transform="translate(722.8 63.87) scale(1 1.05)">3.4</text>
<line x1="758.75" y1="506.5" x2="758.75" y2="524.7" stroke="#262626" stroke-width="3.6" stroke-linecap="butt"/>
<text font-size="30.3" text-anchor="middle" fill="#262626" transform="translate(762.5 552.8) scale(1 1.05)">0</text>
<line x1="795.2" y1="506.5" x2="795.2" y2="524.7" stroke="#262626" stroke-width="3.6" stroke-linecap="butt"/>
<text font-size="30.3" text-anchor="middle" fill="#262626" transform="translate(797.75 552.8) scale(1 1.05)">2</text>
<line x1="831.3" y1="506.5" x2="831.3" y2="524.7" stroke="#262626" stroke-width="3.6" stroke-linecap="butt"/>
<text font-size="30.3" text-anchor="middle" fill="#262626" transform="translate(832.9 552.8) scale(1 1.05)">4</text>
<line x1="867.5" y1="506.5" x2="867.5" y2="524.7" stroke="#262626" stroke-width="3.6" stroke-linecap="butt"/>
<text font-size="30.3" text-anchor="middle" fill="#262626" transform="translate(868.6 552.8) scale(1 1.05)">8</text>
<line x1="903.8" y1="506.5" x2="903.8" y2="524.7" stroke="#262626" stroke-width="3.6" stroke-linecap="butt"/>
<text font-size="30.3" text-anchor="middle" fill="#262626" transform="translate(902.75 552.8) scale(1 1.05)">12</text>
<line x1="940" y1="506.5" x2="940" y2="524.7" stroke="#262626" stroke-width="3.6" stroke-linecap="butt"/>
<text font-size="30.3" text-anchor="middle" fill="#262626" transform="translate(940.6 552.8) scale(1 1.05)">16</text>
<line x1="976.2" y1="506.5" x2="976.2" y2="524.7" stroke="#262626" stroke-width="3.6" stroke-linecap="butt"/>
<text font-size="30.3" text-anchor="middle" fill="#262626" transform="translate(975.5 552.8) scale(1 1.05)">20</text>
<line x1="1012.5" y1="506.5" x2="1012.5" y2="524.7" stroke="#262626" stroke-width="3.6" stroke-linecap="butt"/>
<text font-size="30.3" text-anchor="middle" fill="#262626" transform="translate(1010.4 552.8) scale(1 1.05)">24</text>
<text font-size="33.85" text-anchor="start" fill="#262626" transform="translate(795.6 602.2) scale(1 1.05)">Time (weeks)</text>
<text font-size="33.8" text-anchor="middle" fill="#262626" transform="translate(667.8 226.7) rotate(-90) scale(1 1.05)">Shannon</text>
<line x1="758.7" y1="256" x2="758.7" y2="310.6" stroke="#999999" stroke-width="3.6" stroke-linecap="butt"/>
<line x1="794.7" y1="199.3" x2="794.7" y2="281.8" stroke="#999999" stroke-width="3.6" stroke-linecap="butt"/>
<line x1="831.4" y1="375" x2="831.4" y2="483.9" stroke="#999999" stroke-width="3.6" stroke-linecap="butt"/>
<line x1="902.8" y1="52.8" x2="902.8" y2="151.5" stroke="#999999" stroke-width="3.6" stroke-linecap="butt"/>
<line x1="939.9" y1="183.5" x2="939.9" y2="260.5" stroke="#999999" stroke-width="3.6" stroke-linecap="butt"/>
<line x1="976.3" y1="201.4" x2="976.3" y2="255.9" stroke="#999999" stroke-width="3.6" stroke-linecap="butt"/>
<line x1="1012.4" y1="309.8" x2="1012.4" y2="433.2" stroke="#999999" stroke-width="3.6" stroke-linecap="butt"/>
<ellipse cx="759.3" cy="256" rx="6.7" ry="7.7" fill="#000"/>
<ellipse cx="761.8" cy="310.6" rx="6.7" ry="7.7" fill="#000"/>
<ellipse cx="798.6" cy="199.3" rx="6.7" ry="7.7" fill="#000"/>
<ellipse cx="794.3" cy="281.8" rx="6.7" ry="7.7" fill="#000"/>
<ellipse cx="832.8" cy="375" rx="6.7" ry="7.7" fill="#000"/>
<ellipse cx="830.9" cy="483.9" rx="6.7" ry="7.7" fill="#000"/>
<ellipse cx="868.3" cy="31.4" rx="6.7" ry="7.7" fill="#000"/>
<ellipse cx="870.1" cy="46.5" rx="6.7" ry="7.7" fill="#000"/>
<ellipse cx="902.8" cy="52.8" rx="6.7" ry="7.7" fill="#000"/>
<ellipse cx="902.8" cy="151.5" rx="6.7" ry="7.7" fill="#000"/>
<ellipse cx="940.6" cy="183.5" rx="6.7" ry="7.7" fill="#000"/>
<ellipse cx="939.9" cy="260.5" rx="6.7" ry="7.7" fill="#000"/>
<ellipse cx="972.9" cy="201.4" rx="6.7" ry="7.7" fill="#000"/>
<ellipse cx="976.7" cy="255.9" rx="6.7" ry="7.7" fill="#000"/>
<ellipse cx="1014.6" cy="309.8" rx="6.7" ry="7.7" fill="#000"/>
<ellipse cx="1009.6" cy="433.2" rx="6.7" ry="7.7" fill="#000"/>
<line x1="741" y1="630.4" x2="741" y2="1130.4" stroke="#262626" stroke-width="3.3" stroke-linecap="butt"/>
<line x1="739.4" y1="1128.7" x2="1031.7" y2="1128.7" stroke="#262626" stroke-width="3.5" stroke-linecap="butt"/>
<line x1="725.5" y1="1103.6" x2="741" y2="1103.6" stroke="#262626" stroke-width="3.6" stroke-linecap="butt"/>
<text font-size="34" text-anchor="end" fill="#262626" transform="translate(723.5 1117.27) scale(1 1.05)">4.0</text>
<line x1="725.5" y1="1031" x2="741" y2="1031" stroke="#262626" stroke-width="3.6" stroke-linecap="butt"/>
<text font-size="34" text-anchor="end" fill="#262626" transform="translate(723.5 1044.67) scale(1 1.05)">4.2</text>
<line x1="725.5" y1="958.4" x2="741" y2="958.4" stroke="#262626" stroke-width="3.6" stroke-linecap="butt"/>
<text font-size="34" text-anchor="end" fill="#262626" transform="translate(723.5 972.07) scale(1 1.05)">4.4</text>
<line x1="725.5" y1="885.8" x2="741" y2="885.8" stroke="#262626" stroke-width="3.6" stroke-linecap="butt"/>
<text font-size="34" text-anchor="end" fill="#262626" transform="translate(723.5 899.47) scale(1 1.05)">4.6</text>
<line x1="725.5" y1="813.2" x2="741" y2="813.2" stroke="#262626" stroke-width="3.6" stroke-linecap="butt"/>
<text font-size="34" text-anchor="end" fill="#262626" transform="translate(723.5 826.87) scale(1 1.05)">4.8</text>
<line x1="725.5" y1="740.6" x2="741" y2="740.6" stroke="#262626" stroke-width="3.6" stroke-linecap="butt"/>
<text font-size="34" text-anchor="end" fill="#262626" transform="translate(723.5 754.27) scale(1 1.05)">5.0</text>
<line x1="725.5" y1="668" x2="741" y2="668" stroke="#262626" stroke-width="3.6" stroke-linecap="butt"/>
<text font-size="34" text-anchor="end" fill="#262626" transform="translate(723.5 681.67) scale(1 1.05)">5.2</text>
<line x1="758.3" y1="1128.7" x2="758.3" y2="1146.9" stroke="#262626" stroke-width="3.6" stroke-linecap="butt"/>
<text font-size="30.3" text-anchor="middle" fill="#262626" transform="translate(762.05 1174.9) scale(1 1.05)">0</text>
<line x1="794.3" y1="1128.7" x2="794.3" y2="1146.9" stroke="#262626" stroke-width="3.6" stroke-linecap="butt"/>
<text font-size="30.3" text-anchor="middle" fill="#262626" transform="translate(796.85 1174.9) scale(1 1.05)">2</text>
<line x1="830.6" y1="1128.7" x2="830.6" y2="1146.9" stroke="#262626" stroke-width="3.6" stroke-linecap="butt"/>
<text font-size="30.3" text-anchor="middle" fill="#262626" transform="translate(832.2 1174.9) scale(1 1.05)">4</text>
<line x1="867.4" y1="1128.7" x2="867.4" y2="1146.9" stroke="#262626" stroke-width="3.6" stroke-linecap="butt"/>
<text font-size="30.3" text-anchor="middle" fill="#262626" transform="translate(868.5 1174.9) scale(1 1.05)">8</text>
<line x1="903.1" y1="1128.7" x2="903.1" y2="1146.9" stroke="#262626" stroke-width="3.6" stroke-linecap="butt"/>
<text font-size="30.3" text-anchor="middle" fill="#262626" transform="translate(902.05 1174.9) scale(1 1.05)">12</text>
<line x1="939.1" y1="1128.7" x2="939.1" y2="1146.9" stroke="#262626" stroke-width="3.6" stroke-linecap="butt"/>
<text font-size="30.3" text-anchor="middle" fill="#262626" transform="translate(939.7 1174.9) scale(1 1.05)">16</text>
<line x1="975.6" y1="1128.7" x2="975.6" y2="1146.9" stroke="#262626" stroke-width="3.6" stroke-linecap="butt"/>
<text font-size="30.3" text-anchor="middle" fill="#262626" transform="translate(974.9 1174.9) scale(1 1.05)">20</text>
<line x1="1011.4" y1="1128.7" x2="1011.4" y2="1146.9" stroke="#262626" stroke-width="3.6" stroke-linecap="butt"/>
<text font-size="30.3" text-anchor="middle" fill="#262626" transform="translate(1009.3 1174.9) scale(1 1.05)">24</text>
<text font-size="33.85" text-anchor="start" fill="#262626" transform="translate(796.2 1226.1) scale(1 1.05)">Time (weeks)</text>
<text font-size="33.8" text-anchor="middle" fill="#262626" transform="translate(667.8 841) rotate(-90) scale(1 1.05)">Shannon</text>
<line x1="794.6" y1="1076.5" x2="794.6" y2="1106.3" stroke="#999999" stroke-width="3.6" stroke-linecap="butt"/>
<line x1="830.8" y1="871.3" x2="830.8" y2="951.9" stroke="#999999" stroke-width="3.6" stroke-linecap="butt"/>
<line x1="939" y1="913.9" x2="939" y2="993.2" stroke="#999999" stroke-width="3.6" stroke-linecap="butt"/>
<line x1="975.8" y1="693.4" x2="975.8" y2="852.5" stroke="#999999" stroke-width="3.6" stroke-linecap="butt"/>
<line x1="1011.9" y1="748.3" x2="1011.9" y2="789.8" stroke="#999999" stroke-width="3.6" stroke-linecap="butt"/>
<ellipse cx="755.6" cy="658.9" rx="6.7" ry="7.7" fill="#000"/>
<ellipse cx="758.7" cy="653.7" rx="6.7" ry="7.7" fill="#000"/>
<ellipse cx="796.1" cy="1076.5" rx="6.7" ry="7.7" fill="#000"/>
<ellipse cx="798.2" cy="1106.3" rx="6.7" ry="7.7" fill="#000"/>
<ellipse cx="832.6" cy="871.3" rx="6.7" ry="7.7" fill="#000"/>
<ellipse cx="830.8" cy="951.9" rx="6.7" ry="7.7" fill="#000"/>
<ellipse cx="866.5" cy="879.3" rx="6.7" ry="7.7" fill="#000"/>
<ellipse cx="869.1" cy="893" rx="6.7" ry="7.7" fill="#000"/>
<ellipse cx="900" cy="812.6" rx="6.7" ry="7.7" fill="#000"/>
<ellipse cx="903.9" cy="803.6" rx="6.7" ry="7.7" fill="#000"/>
<ellipse cx="942.6" cy="913.9" rx="6.7" ry="7.7" fill="#000"/>
<ellipse cx="938" cy="993.2" rx="6.7" ry="7.7" fill="#000"/>
<ellipse cx="975.2" cy="693.4" rx="6.7" ry="7.7" fill="#000"/>
<ellipse cx="973.9" cy="852.5" rx="6.7" ry="7.7" fill="#000"/>
<ellipse cx="1009.6" cy="748.3" rx="6.7" ry="7.7" fill="#000"/>
<ellipse cx="1008.9" cy="789.8" rx="6.7" ry="7.7" fill="#000"/>
<rect x="1192.9" y="458.7" width="54.6" height="47.7" fill="#c5b0d5" stroke="#000" stroke-width="3.6"/>
<rect x="1192.9" y="441.6" width="54.6" height="17.1" fill="#9467bd" stroke="#000" stroke-width="3.6"/>
<rect x="1192.9" y="362.3" width="54.6" height="79.3" fill="#ff9896" stroke="#000" stroke-width="3.6"/>
<rect x="1192.9" y="361" width="54.6" height="1.3" fill="#d62728" stroke="#000" stroke-width="3.6"/>
<rect x="1192.9" y="359.8" width="54.6" height="1.2" fill="#98df8a" stroke="#000" stroke-width="3.6"/>
<rect x="1192.9" y="41" width="54.6" height="318.8" fill="#2ca02c" stroke="#000" stroke-width="3.6"/>
<rect x="1192.9" y="35.9" width="54.6" height="5.1" fill="#ffbb78" stroke="#000" stroke-width="3.6"/>
<rect x="1253.7" y="505.2" width="54.6" height="1.2" fill="#c5b0d5" stroke="#000" stroke-width="3.6"/>
<rect x="1253.7" y="424.8" width="54.6" height="80.4" fill="#9467bd" stroke="#000" stroke-width="3.6"/>
<rect x="1253.7" y="408.1" width="54.6" height="16.7" fill="#ff9896" stroke="#000" stroke-width="3.6"/>
<rect x="1253.7" y="402.9" width="54.6" height="5.2" fill="#d62728" stroke="#000" stroke-width="3.6"/>
<rect x="1253.7" y="373.1" width="54.6" height="29.8" fill="#98df8a" stroke="#000" stroke-width="3.6"/>
<rect x="1253.7" y="230.1" width="54.6" height="143" fill="#2ca02c" stroke="#000" stroke-width="3.6"/>
<rect x="1253.7" y="73" width="54.6" height="157.1" fill="#ffbb78" stroke="#000" stroke-width="3.6"/>
<rect x="1314.6" y="505.2" width="54.6" height="1.2" fill="#c5b0d5" stroke="#000" stroke-width="3.6"/>
<rect x="1314.6" y="448.8" width="54.6" height="56.4" fill="#9467bd" stroke="#000" stroke-width="3.6"/>
<rect x="1314.6" y="408.1" width="54.6" height="40.7" fill="#ff9896" stroke="#000" stroke-width="3.6"/>
<rect x="1314.6" y="402.9" width="54.6" height="5.2" fill="#d62728" stroke="#000" stroke-width="3.6"/>
<rect x="1314.6" y="373.8" width="54.6" height="29.1" fill="#98df8a" stroke="#000" stroke-width="3.6"/>
<rect x="1314.6" y="293.7" width="54.6" height="80.1" fill="#2ca02c" stroke="#000" stroke-width="3.6"/>
<rect x="1314.6" y="100.8" width="54.6" height="192.9" fill="#ffbb78" stroke="#000" stroke-width="3.6"/>
<rect x="1375.5" y="489" width="54.6" height="17.4" fill="#c5b0d5" stroke="#000" stroke-width="3.6"/>
<rect x="1375.5" y="438" width="54.6" height="51" fill="#9467bd" stroke="#000" stroke-width="3.6"/>
<rect x="1375.5" y="348.1" width="54.6" height="89.9" fill="#ff9896" stroke="#000" stroke-width="3.6"/>
<rect x="1375.5" y="342.6" width="54.6" height="5.5" fill="#d62728" stroke="#000" stroke-width="3.6"/>
<rect x="1375.5" y="315.8" width="54.6" height="26.8" fill="#98df8a" stroke="#000" stroke-width="3.6"/>
<rect x="1375.5" y="263.2" width="54.6" height="52.6" fill="#2ca02c" stroke="#000" stroke-width="3.6"/>
<rect x="1375.5" y="163.2" width="54.6" height="100" fill="#ffbb78" stroke="#000" stroke-width="3.6"/>
<rect x="1436.2" y="469.1" width="54.6" height="37.3" fill="#c5b0d5" stroke="#000" stroke-width="3.6"/>
<rect x="1436.2" y="419.6" width="54.6" height="49.5" fill="#9467bd" stroke="#000" stroke-width="3.6"/>
<rect x="1436.2" y="302.7" width="54.6" height="116.9" fill="#ff9896" stroke="#000" stroke-width="3.6"/>
<rect x="1436.2" y="296" width="54.6" height="6.7" fill="#d62728" stroke="#000" stroke-width="3.6"/>
<rect x="1436.2" y="270.7" width="54.6" height="25.3" fill="#98df8a" stroke="#000" stroke-width="3.6"/>
<rect x="1436.2" y="226.5" width="54.6" height="44.2" fill="#2ca02c" stroke="#000" stroke-width="3.6"/>
<rect x="1436.2" y="115" width="54.6" height="111.5" fill="#ffbb78" stroke="#000" stroke-width="3.6"/>
<rect x="1497.3" y="454" width="54.6" height="52.4" fill="#c5b0d5" stroke="#000" stroke-width="3.6"/>
<rect x="1497.3" y="412.9" width="54.6" height="41.1" fill="#9467bd" stroke="#000" stroke-width="3.6"/>
<rect x="1497.3" y="258" width="54.6" height="154.9" fill="#ff9896" stroke="#000" stroke-width="3.6"/>
<rect x="1497.3" y="250.7" width="54.6" height="7.3" fill="#d62728" stroke="#000" stroke-width="3.6"/>
<rect x="1497.3" y="232.8" width="54.6" height="17.9" fill="#98df8a" stroke="#000" stroke-width="3.6"/>
<rect x="1497.3" y="194.9" width="54.6" height="37.9" fill="#2ca02c" stroke="#000" stroke-width="3.6"/>
<rect x="1497.3" y="94" width="54.6" height="100.9" fill="#ffbb78" stroke="#000" stroke-width="3.6"/>
<rect x="1558.1" y="464.9" width="54.6" height="41.5" fill="#c5b0d5" stroke="#000" stroke-width="3.6"/>
<rect x="1558.1" y="424.4" width="54.6" height="40.5" fill="#9467bd" stroke="#000" stroke-width="3.6"/>
<rect x="1558.1" y="265.9" width="54.6" height="158.5" fill="#ff9896" stroke="#000" stroke-width="3.6"/>
<rect x="1558.1" y="259.1" width="54.6" height="6.8" fill="#d62728" stroke="#000" stroke-width="3.6"/>
<rect x="1558.1" y="233.8" width="54.6" height="25.3" fill="#98df8a" stroke="#000" stroke-width="3.6"/>
<rect x="1558.1" y="193.4" width="54.6" height="40.4" fill="#2ca02c" stroke="#000" stroke-width="3.6"/>
<rect x="1558.1" y="99" width="54.6" height="94.4" fill="#ffbb78" stroke="#000" stroke-width="3.6"/>
<rect x="1619.1" y="460.7" width="54.6" height="45.7" fill="#c5b0d5" stroke="#000" stroke-width="3.6"/>
<rect x="1619.1" y="403.4" width="54.6" height="57.3" fill="#9467bd" stroke="#000" stroke-width="3.6"/>
<rect x="1619.1" y="244.8" width="54.6" height="158.6" fill="#ff9896" stroke="#000" stroke-width="3.6"/>
<rect x="1619.1" y="240.2" width="54.6" height="4.6" fill="#d62728" stroke="#000" stroke-width="3.6"/>
<rect x="1619.1" y="222.2" width="54.6" height="18" fill="#98df8a" stroke="#000" stroke-width="3.6"/>
<rect x="1619.1" y="188.1" width="54.6" height="34.1" fill="#2ca02c" stroke="#000" stroke-width="3.6"/>
<rect x="1619.1" y="71.9" width="54.6" height="116.2" fill="#ffbb78" stroke="#000" stroke-width="3.6"/>
<line x1="1177.4" y1="9" x2="1177.4" y2="508.7" stroke="#262626" stroke-width="3.6" stroke-linecap="butt"/>
<line x1="1158.3" y1="507" x2="1690.4" y2="507" stroke="#262626" stroke-width="3.6" stroke-linecap="butt"/>
<line x1="1158.3" y1="506.4" x2="1177.4" y2="506.4" stroke="#262626" stroke-width="3.8" stroke-linecap="butt"/>
<text font-size="34" text-anchor="end" fill="#262626" transform="translate(1148.3 518.57) scale(1 1.05)">0</text>
<line x1="1158.3" y1="407.4" x2="1177.4" y2="407.4" stroke="#262626" stroke-width="3.8" stroke-linecap="butt"/>
<text font-size="34" text-anchor="end" fill="#262626" transform="translate(1148.3 419.57) scale(1 1.05)">20</text>
<line x1="1158.3" y1="308.4" x2="1177.4" y2="308.4" stroke="#262626" stroke-width="3.8" stroke-linecap="butt"/>
<text font-size="34" text-anchor="end" fill="#262626" transform="translate(1148.3 320.57) scale(1 1.05)">40</text>
<line x1="1158.3" y1="209.4" x2="1177.4" y2="209.4" stroke="#262626" stroke-width="3.8" stroke-linecap="butt"/>
<text font-size="34" text-anchor="end" fill="#262626" transform="translate(1148.3 221.57) scale(1 1.05)">60</text>
<line x1="1158.3" y1="110.4" x2="1177.4" y2="110.4" stroke="#262626" stroke-width="3.8" stroke-linecap="butt"/>
<text font-size="34" text-anchor="end" fill="#262626" transform="translate(1148.3 122.57) scale(1 1.05)">80</text>
<line x1="1158.3" y1="11.4" x2="1177.4" y2="11.4" stroke="#262626" stroke-width="3.8" stroke-linecap="butt"/>
<text font-size="34" text-anchor="end" fill="#262626" transform="translate(1148.3 23.57) scale(1 1.05)">100</text>
<line x1="1220" y1="507" x2="1220" y2="525.3" stroke="#262626" stroke-width="3.6" stroke-linecap="butt"/>
<text font-size="37.5" text-anchor="middle" fill="#262626" transform="translate(1220.4 561) scale(1 1.05)">0</text>
<line x1="1280.85" y1="507" x2="1280.85" y2="525.3" stroke="#262626" stroke-width="3.6" stroke-linecap="butt"/>
<text font-size="37.5" text-anchor="middle" fill="#262626" transform="translate(1279.3 561) scale(1 1.05)">2</text>
<line x1="1341.7" y1="507" x2="1341.7" y2="525.3" stroke="#262626" stroke-width="3.6" stroke-linecap="butt"/>
<text font-size="37.5" text-anchor="middle" fill="#262626" transform="translate(1339.8 561) scale(1 1.05)">4</text>
<line x1="1402.55" y1="507" x2="1402.55" y2="525.3" stroke="#262626" stroke-width="3.6" stroke-linecap="butt"/>
<text font-size="37.5" text-anchor="middle" fill="#262626" transform="translate(1403 561) scale(1 1.05)">8</text>
<line x1="1463.4" y1="507" x2="1463.4" y2="525.3" stroke="#262626" stroke-width="3.6" stroke-linecap="butt"/>
<text font-size="37.5" text-anchor="middle" fill="#262626" transform="translate(1462.9 561) scale(1 1.05)">12</text>
<line x1="1524.25" y1="507" x2="1524.25" y2="525.3" stroke="#262626" stroke-width="3.6" stroke-linecap="butt"/>
<text font-size="37.5" text-anchor="middle" fill="#262626" transform="translate(1521 561) scale(1 1.05)">16</text>
<line x1="1585.1" y1="507" x2="1585.1" y2="525.3" stroke="#262626" stroke-width="3.6" stroke-linecap="butt"/>
<text font-size="37.5" text-anchor="middle" fill="#262626" transform="translate(1586.3 561) scale(1 1.05)">20</text>
<line x1="1645.95" y1="507" x2="1645.95" y2="525.3" stroke="#262626" stroke-width="3.6" stroke-linecap="butt"/>
<text font-size="37.5" text-anchor="middle" fill="#262626" transform="translate(1644.8 561) scale(1 1.05)">24</text>
<text font-size="33.85" text-anchor="start" fill="#262626" transform="translate(1344.8 602.5) scale(1 1.05)">Time (weeks)</text>
<text font-size="34" text-anchor="middle" fill="#262626" transform="translate(1090.8 230.5) rotate(-90) scale(1 1.05)">Relative abundance (%)</text>
<rect x="1691.5" y="183.65" width="52.4" height="18.1" fill="#ffbb78" stroke="#000" stroke-width="3.6"/>
<text font-size="26.25" text-anchor="start" fill="#000" transform="translate(1766 202.4) scale(1 1.05)">Tremellomycetes</text>
<rect x="1691.5" y="221.05" width="52.4" height="18.1" fill="#2ca02c" stroke="#000" stroke-width="3.6"/>
<text font-size="26.25" text-anchor="start" fill="#262626" transform="translate(1766 239.8) scale(1 1.05)">Saccharomycetes</text>
<rect x="1691.5" y="258.75" width="52.4" height="18.1" fill="#98df8a" stroke="#000" stroke-width="3.6"/>
<text font-size="26.25" text-anchor="start" fill="#262626" transform="translate(1766 277.5) scale(1 1.05)">Mucoromycetes</text>
<rect x="1691.5" y="296.55" width="52.4" height="18.1" fill="#d62728" stroke="#000" stroke-width="3.6"/>
<text font-size="26.25" text-anchor="start" fill="#000" transform="translate(1766 315.3) scale(1 1.05)">Microbotryomycetes</text>
<rect x="1691.5" y="334.15" width="52.4" height="18.1" fill="#ff9896" stroke="#000" stroke-width="3.6"/>
<text font-size="26.25" text-anchor="start" fill="#262626" transform="translate(1766 352.9) scale(1 1.05)">Leotiomycetes</text>
<rect x="1691.5" y="372.05" width="52.4" height="18.1" fill="#9467bd" stroke="#000" stroke-width="3.6"/>
<text font-size="26.25" text-anchor="start" fill="#262626" transform="translate(1766 390.8) scale(1 1.05)">Eurotiomycetes</text>
<rect x="1691.5" y="409.85" width="52.4" height="18.1" fill="#c5b0d5" stroke="#000" stroke-width="3.6"/>
<text font-size="26.25" text-anchor="start" fill="#262626" transform="translate(1766 428.6) scale(1 1.05)">Agaricomycetes</text>
<rect x="1191.7" y="1124.8" width="54.6" height="7.4" fill="#c5b0d5" stroke="#000" stroke-width="3.6"/>
<rect x="1191.7" y="963.9" width="54.6" height="160.9" fill="#9467bd" stroke="#000" stroke-width="3.6"/>
<rect x="1191.7" y="921.5" width="54.6" height="42.4" fill="#ff9896" stroke="#000" stroke-width="3.6"/>
<rect x="1191.7" y="916.9" width="54.6" height="4.6" fill="#d62728" stroke="#000" stroke-width="3.6"/>
<rect x="1191.7" y="691.1" width="54.6" height="225.8" fill="#98df8a" stroke="#000" stroke-width="3.6"/>
<rect x="1191.7" y="669" width="54.6" height="22.1" fill="#2ca02c" stroke="#000" stroke-width="3.6"/>
<rect x="1253" y="1122.8" width="54.6" height="9.4" fill="#c5b0d5" stroke="#000" stroke-width="3.6"/>
<rect x="1253" y="1122.7" width="54.6" height="0.1" fill="#9467bd" stroke="#000" stroke-width="3.6"/>
<rect x="1253" y="1114.5" width="54.6" height="8.2" fill="#ff9896" stroke="#000" stroke-width="3.6"/>
<rect x="1253" y="1114.4" width="54.6" height="0.1" fill="#d62728" stroke="#000" stroke-width="3.6"/>
<rect x="1253" y="639.9" width="54.6" height="474.5" fill="#98df8a" stroke="#000" stroke-width="3.6"/>
<rect x="1253" y="639.8" width="54.6" height="0.1" fill="#2ca02c" stroke="#000" stroke-width="3.6"/>
<rect x="1314.25" y="1118.7" width="54.6" height="13.5" fill="#c5b0d5" stroke="#000" stroke-width="3.6"/>
<rect x="1314.25" y="1090.7" width="54.6" height="28" fill="#9467bd" stroke="#000" stroke-width="3.6"/>
<rect x="1314.25" y="1067.5" width="54.6" height="23.2" fill="#ff9896" stroke="#000" stroke-width="3.6"/>
<rect x="1314.25" y="1067.4" width="54.6" height="0.1" fill="#d62728" stroke="#000" stroke-width="3.6"/>
<rect x="1314.25" y="642.4" width="54.6" height="425" fill="#98df8a" stroke="#000" stroke-width="3.6"/>
<rect x="1314.25" y="639.9" width="54.6" height="2.5" fill="#2ca02c" stroke="#000" stroke-width="3.6"/>
<rect x="1375.55" y="1117.5" width="54.6" height="14.7" fill="#c5b0d5" stroke="#000" stroke-width="3.6"/>
<rect x="1375.55" y="1067.1" width="54.6" height="50.4" fill="#9467bd" stroke="#000" stroke-width="3.6"/>
<rect x="1375.55" y="1027.5" width="54.6" height="39.6" fill="#ff9896" stroke="#000" stroke-width="3.6"/>
<rect x="1375.55" y="1027.4" width="54.6" height="0.1" fill="#d62728" stroke="#000" stroke-width="3.6"/>
<rect x="1375.55" y="652" width="54.6" height="375.4" fill="#98df8a" stroke="#000" stroke-width="3.6"/>
<rect x="1375.55" y="647.9" width="54.6" height="4.1" fill="#2ca02c" stroke="#000" stroke-width="3.6"/>
<rect x="1436.95" y="1122.9" width="54.6" height="9.3" fill="#c5b0d5" stroke="#000" stroke-width="3.6"/>
<rect x="1436.95" y="1052.4" width="54.6" height="70.5" fill="#9467bd" stroke="#000" stroke-width="3.6"/>
<rect x="1436.95" y="1006.4" width="54.6" height="46" fill="#ff9896" stroke="#000" stroke-width="3.6"/>
<rect x="1436.95" y="1006.3" width="54.6" height="0.1" fill="#d62728" stroke="#000" stroke-width="3.6"/>
<rect x="1436.95" y="663.8" width="54.6" height="342.5" fill="#98df8a" stroke="#000" stroke-width="3.6"/>
<rect x="1436.95" y="657.6" width="54.6" height="6.2" fill="#2ca02c" stroke="#000" stroke-width="3.6"/>
<rect x="1497.95" y="1127.6" width="54.6" height="4.6" fill="#c5b0d5" stroke="#000" stroke-width="3.6"/>
<rect x="1497.95" y="1063.7" width="54.6" height="63.9" fill="#9467bd" stroke="#000" stroke-width="3.6"/>
<rect x="1497.95" y="1035.3" width="54.6" height="28.4" fill="#ff9896" stroke="#000" stroke-width="3.6"/>
<rect x="1497.95" y="1035.2" width="54.6" height="0.1" fill="#d62728" stroke="#000" stroke-width="3.6"/>
<rect x="1497.95" y="652" width="54.6" height="383.2" fill="#98df8a" stroke="#000" stroke-width="3.6"/>
<rect x="1497.95" y="648" width="54.6" height="4" fill="#2ca02c" stroke="#000" stroke-width="3.6"/>
<rect x="1559.05" y="1128.6" width="54.6" height="3.6" fill="#c5b0d5" stroke="#000" stroke-width="3.6"/>
<rect x="1559.05" y="1063.9" width="54.6" height="64.7" fill="#9467bd" stroke="#000" stroke-width="3.6"/>
<rect x="1559.05" y="1036.8" width="54.6" height="27.1" fill="#ff9896" stroke="#000" stroke-width="3.6"/>
<rect x="1559.05" y="1036.7" width="54.6" height="0.1" fill="#d62728" stroke="#000" stroke-width="3.6"/>
<rect x="1559.05" y="654.3" width="54.6" height="382.4" fill="#98df8a" stroke="#000" stroke-width="3.6"/>
<rect x="1559.05" y="649.6" width="54.6" height="4.7" fill="#2ca02c" stroke="#000" stroke-width="3.6"/>
<rect x="1620.3" y="1128.2" width="54.6" height="4" fill="#c5b0d5" stroke="#000" stroke-width="3.6"/>
<rect x="1620.3" y="1019.1" width="54.6" height="109.1" fill="#9467bd" stroke="#000" stroke-width="3.6"/>
<rect x="1620.3" y="980.1" width="54.6" height="39" fill="#ff9896" stroke="#000" stroke-width="3.6"/>
<rect x="1620.3" y="980" width="54.6" height="0.1" fill="#d62728" stroke="#000" stroke-width="3.6"/>
<rect x="1620.3" y="651.3" width="54.6" height="328.7" fill="#98df8a" stroke="#000" stroke-width="3.6"/>
<rect x="1620.3" y="644.3" width="54.6" height="7" fill="#2ca02c" stroke="#000" stroke-width="3.6"/>
<line x1="1176.4" y1="636.8" x2="1176.4" y2="1133.9" stroke="#262626" stroke-width="3.6" stroke-linecap="butt"/>
<line x1="1158.3" y1="1132.2" x2="1693.2" y2="1132.2" stroke="#262626" stroke-width="3.6" stroke-linecap="butt"/>
<line x1="1158.3" y1="1132.7" x2="1176.4" y2="1132.7" stroke="#262626" stroke-width="3.8" stroke-linecap="butt"/>
<text font-size="34" text-anchor="end" fill="#000" transform="translate(1149.7 1147.37) scale(1 1.05)">0</text>
<line x1="1158.3" y1="1033.84" x2="1176.4" y2="1033.84" stroke="#262626" stroke-width="3.8" stroke-linecap="butt"/>
<text font-size="34" text-anchor="end" fill="#000" transform="translate(1149.7 1048.51) scale(1 1.05)">20</text>
<line x1="1158.3" y1="934.98" x2="1176.4" y2="934.98" stroke="#262626" stroke-width="3.8" stroke-linecap="butt"/>
<text font-size="34" text-anchor="end" fill="#000" transform="translate(1149.7 949.65) scale(1 1.05)">40</text>
<line x1="1158.3" y1="836.12" x2="1176.4" y2="836.12" stroke="#262626" stroke-width="3.8" stroke-linecap="butt"/>
<text font-size="34" text-anchor="end" fill="#000" transform="translate(1149.7 850.79) scale(1 1.05)">60</text>
<line x1="1158.3" y1="737.26" x2="1176.4" y2="737.26" stroke="#262626" stroke-width="3.8" stroke-linecap="butt"/>
<text font-size="34" text-anchor="end" fill="#000" transform="translate(1149.7 751.93) scale(1 1.05)">80</text>
<line x1="1158.3" y1="638.4" x2="1176.4" y2="638.4" stroke="#262626" stroke-width="3.8" stroke-linecap="butt"/>
<text font-size="34" text-anchor="end" fill="#000" transform="translate(1149.7 653.07) scale(1 1.05)">100</text>
<line x1="1220" y1="1132.2" x2="1220" y2="1150.5" stroke="#262626" stroke-width="3.6" stroke-linecap="butt"/>
<text font-size="37.5" text-anchor="middle" fill="#262626" transform="translate(1220.4 1188.4) scale(1 1.05)">0</text>
<line x1="1280.85" y1="1132.2" x2="1280.85" y2="1150.5" stroke="#262626" stroke-width="3.6" stroke-linecap="butt"/>
<text font-size="37.5" text-anchor="middle" fill="#262626" transform="translate(1279.3 1188.4) scale(1 1.05)">2</text>
<line x1="1341.7" y1="1132.2" x2="1341.7" y2="1150.5" stroke="#262626" stroke-width="3.6" stroke-linecap="butt"/>
<text font-size="37.5" text-anchor="middle" fill="#262626" transform="translate(1339.8 1188.4) scale(1 1.05)">4</text>
<line x1="1402.55" y1="1132.2" x2="1402.55" y2="1150.5" stroke="#262626" stroke-width="3.6" stroke-linecap="butt"/>
<text font-size="37.5" text-anchor="middle" fill="#262626" transform="translate(1403 1188.4) scale(1 1.05)">8</text>
<line x1="1463.4" y1="1132.2" x2="1463.4" y2="1150.5" stroke="#262626" stroke-width="3.6" stroke-linecap="butt"/>
<text font-size="37.5" text-anchor="middle" fill="#262626" transform="translate(1462.9 1188.4) scale(1 1.05)">12</text>
<line x1="1524.25" y1="1132.2" x2="1524.25" y2="1150.5" stroke="#262626" stroke-width="3.6" stroke-linecap="butt"/>
<text font-size="37.5" text-anchor="middle" fill="#262626" transform="translate(1521 1188.4) scale(1 1.05)">16</text>
<line x1="1585.1" y1="1132.2" x2="1585.1" y2="1150.5" stroke="#262626" stroke-width="3.6" stroke-linecap="butt"/>
<text font-size="37.5" text-anchor="middle" fill="#262626" transform="translate(1586.3 1188.4) scale(1 1.05)">20</text>
<line x1="1645.95" y1="1132.2" x2="1645.95" y2="1150.5" stroke="#262626" stroke-width="3.6" stroke-linecap="butt"/>
<text font-size="37.5" text-anchor="middle" fill="#262626" transform="translate(1644.8 1188.4) scale(1 1.05)">24</text>
<text font-size="33.85" text-anchor="start" fill="#262626" transform="translate(1345.8 1226.9) scale(1 1.05)">Time (weeks)</text>
<text font-size="34" text-anchor="middle" fill="#262626" transform="translate(1096.3 858.5) rotate(-90) scale(1 1.05)">Relative abundance (%)</text>
<rect x="1710.9" y="782.75" width="52.4" height="18.1" fill="#2ca02c" stroke="#000" stroke-width="3.6"/>
<text font-size="26.25" text-anchor="start" fill="#000" transform="translate(1785.6 801.1) scale(1 1.05)">Verrucomicrobiota</text>
<rect x="1710.9" y="819.85" width="52.4" height="18.1" fill="#98df8a" stroke="#000" stroke-width="3.6"/>
<text font-size="26.25" text-anchor="start" fill="#000" transform="translate(1785.6 838.2) scale(1 1.05)">Pseudomonadota</text>
<rect x="1710.9" y="857.35" width="52.4" height="18.1" fill="#d62728" stroke="#000" stroke-width="3.6"/>
<text font-size="26.25" text-anchor="start" fill="#000" transform="translate(1785.6 875.7) scale(1 1.05)">Cyanobacteria</text>
<rect x="1710.9" y="894.25" width="52.4" height="18.1" fill="#ff9896" stroke="#000" stroke-width="3.6"/>
<text font-size="26.25" text-anchor="start" fill="#000" transform="translate(1785.6 912.6) scale(1 1.05)">Bacteroidota</text>
<rect x="1710.9" y="931.25" width="52.4" height="18.1" fill="#9467bd" stroke="#000" stroke-width="3.6"/>
<text font-size="26.25" text-anchor="start" fill="#000" transform="translate(1785.6 949.6) scale(1 1.05)">Actinomycetota</text>
<rect x="1710.9" y="968.75" width="52.4" height="18.1" fill="#c5b0d5" stroke="#000" stroke-width="3.6"/>
<text font-size="26.25" text-anchor="start" fill="#000" transform="translate(1785.6 987.1) scale(1 1.05)">Acidobacteriota</text>
</svg>
</body></html>
